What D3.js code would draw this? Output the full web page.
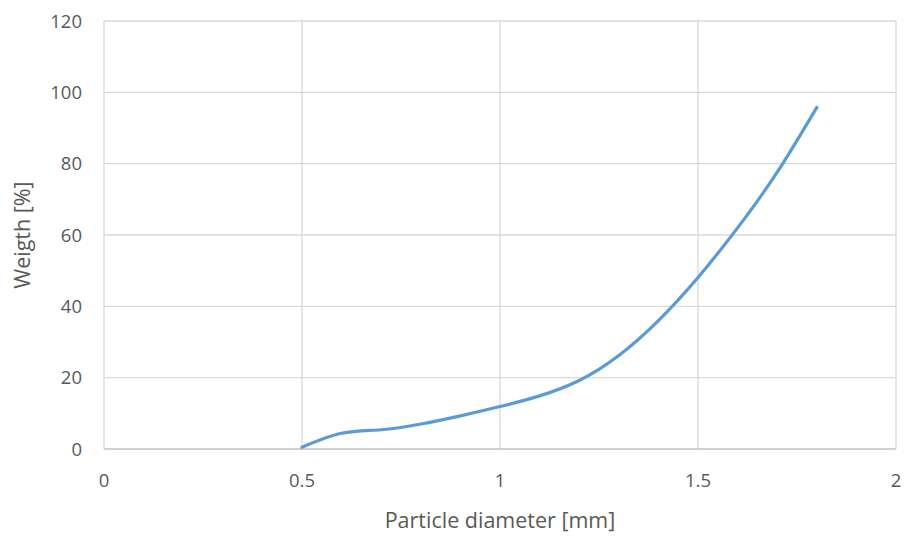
<!DOCTYPE html>
<html><head><meta charset="utf-8">
<script src="https://cdn.jsdelivr.net/npm/d3@7"></script>
<style>body{margin:0;background:#fff}svg{display:block}text{font-family:"Open Sans","Liberation Sans",sans-serif;fill:#595959}</style>
</head><body><svg id="c" width="908" height="536"></svg>
<script>
const diameters = [0.5, 0.6, 0.7, 0.8, 0.9, 1.0, 1.1, 1.2, 1.3, 1.4, 1.5, 1.6, 1.7, 1.8];
const weights   = [0.5, 4.4, 5.4, 7.0, 9.3, 11.9, 14.9, 19.2, 26.2, 36.0, 48.1, 62.0, 77.6, 95.8];
const xTicks = [0, 0.5, 1, 1.5, 2];
const yTicks = [0, 20, 40, 60, 80, 100, 120];
const xTitle = "Particle diameter [mm]";
const yTitle = "Weigth [%]";

const svg = d3.select("#c");
const m = {l:104, r:896, t:21, b:449};
const x = d3.scaleLinear().domain([0,2]).range([m.l, m.r]);
const y = d3.scaleLinear().domain([0,120]).range([m.b, m.t]);

svg.append("g").selectAll("line").data(yTicks.filter(d=>d>0)).join("line")
  .attr("x1", m.l).attr("x2", m.r).attr("y1", d=>y(d)).attr("y2", d=>y(d))
  .attr("stroke", "#D9D9D9").attr("stroke-width", 1.3);
svg.append("g").selectAll("line").data(xTicks).join("line")
  .attr("x1", d=>x(d)).attr("x2", d=>x(d)).attr("y1", m.t).attr("y2", m.b)
  .attr("stroke", "#D9D9D9").attr("stroke-width", 1.3);
svg.append("line").attr("x1", m.l).attr("x2", m.r).attr("y1", y(0)).attr("y2", y(0))
  .attr("stroke", "#BFBFBF").attr("stroke-width", 1.3);

svg.append("g").selectAll("text").data(xTicks).join("text")
  .attr("x", d=>x(d)).attr("y", 487).attr("text-anchor","middle")
  .attr("font-size", 18.5).text(d=>d);
svg.append("g").selectAll("text").data(yTicks).join("text")
  .attr("x", 82).attr("y", d=>y(d)+6.5).attr("text-anchor","end")
  .attr("font-size", 18.5).text(d=>d);

svg.append("text").attr("x", (m.l+m.r)/2).attr("y", 528).attr("text-anchor","middle")
  .attr("font-size", 21.5).text(xTitle);
svg.append("text").attr("transform", `translate(30,${(m.t+m.b)/2}) rotate(-90)`)
  .attr("text-anchor","middle").attr("font-size", 21.5).text(yTitle);

const pts = diameters.map((d,i)=>[d, weights[i]]);
svg.append("path").datum(pts)
  .attr("fill","none").attr("stroke","#5B9BD5").attr("stroke-width",3.2)
  .attr("stroke-linecap","round")
  .attr("d", d3.line().x(d=>x(d[0])).y(d=>y(d[1])).curve(d3.curveNatural));
</script></body></html>
